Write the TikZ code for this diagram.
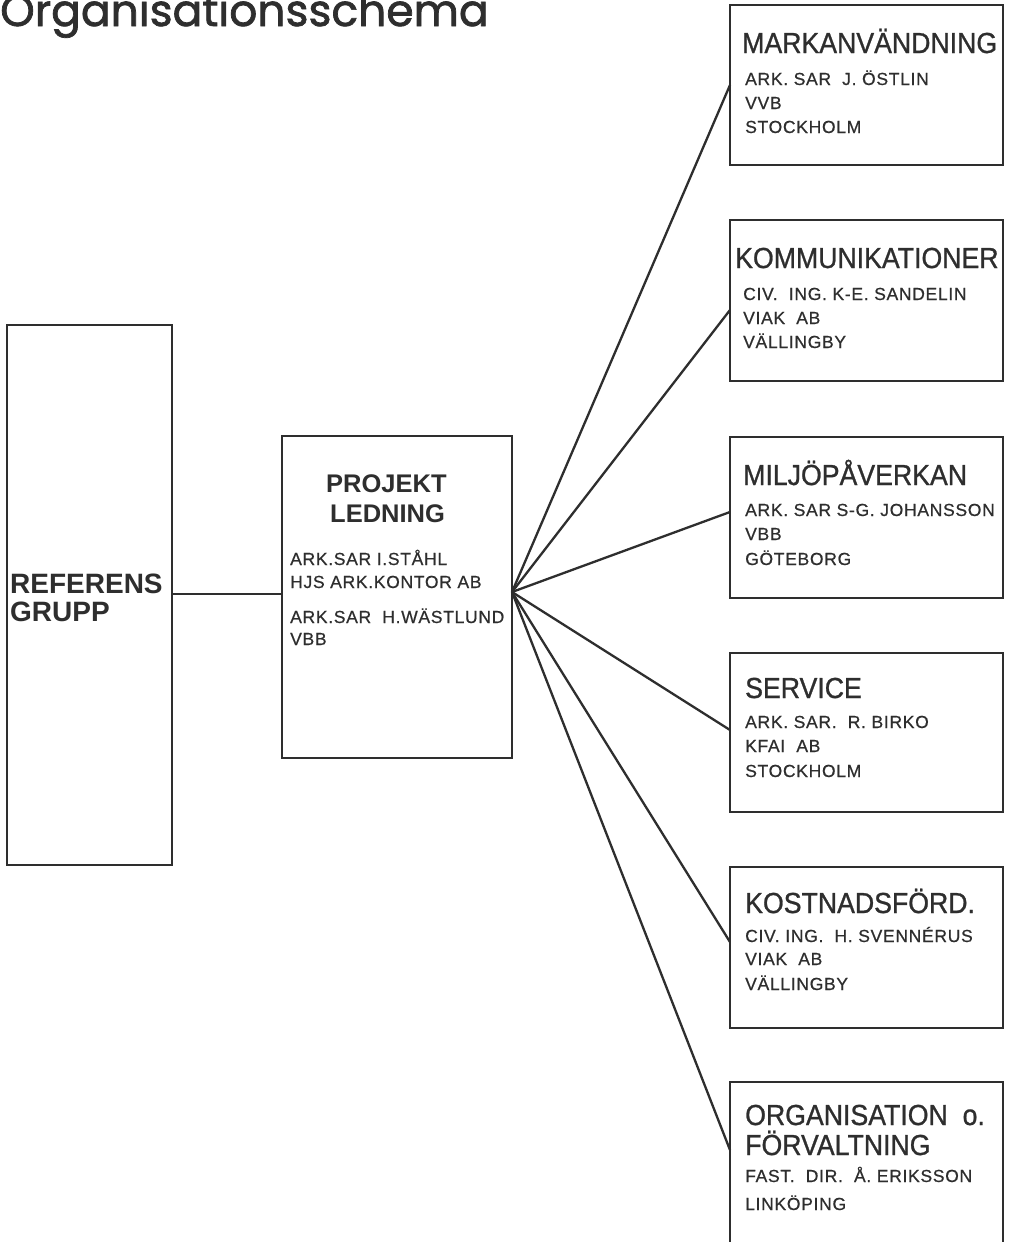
\documentclass[tikz,border=0pt]{standalone}
\usepackage{fontspec}
\setmainfont{Liberation Sans}
\newfontfamily\titlefont[FakeBold=1.6]{Poppins}
\newfontfamily\headfam[FakeStretch=0.92,FakeBold=0.9]{Liberation Sans}
\newfontfamily\subfam[LetterSpace=4,FakeBold=0.6]{Liberation Sans}
\definecolor{ink}{HTML}{2E2E2E}
\begin{document}
\begin{tikzpicture}[x=1pt,y=-1pt,
  box/.style={draw=ink, line width=2.8pt, rectangle, inner sep=0pt, outer sep=0pt, anchor=north west},
  link/.style={draw=ink, line width=2.3pt},
  head/.style={anchor=base west, inner sep=0pt, text=ink, font=\headfam\fontsize{29}{29}\selectfont},
  sub/.style={anchor=base west, inner sep=0pt, text=ink, font=\subfam\fontsize{17.5}{17.5}\selectfont},
  bighead/.style={anchor=base west, inner sep=0pt, text=ink, font=\bfseries\fontsize{28}{28}\selectfont},
  plhead/.style={anchor=base west, inner sep=0pt, text=ink, font=\bfseries\fontsize{25.5}{25.5}\selectfont},
  title/.style={anchor=base west, inner sep=0pt, text=ink, font=\titlefont\fontsize{44}{44}\selectfont}]
\clip (0,0) rectangle (1011,1242);
\fill[white] (0,0) rectangle (1011,1242);

% title
\node[title] (title) at (0,26) {Organisationsschema};

% referens grupp
\node[box, minimum width=165, minimum height=540] (rg) at (7,325) {};
\node[bighead] (rgA) at (10,593) {REFERENS};
\node[bighead] (rgB) at (10,621) {GRUPP};

% projekt ledning
\node[box, minimum width=230, minimum height=322] (pl) at (282,436) {};
\node[plhead] (plA) at (326,492) {PROJEKT};
\node[plhead] (plB) at (330,522) {LEDNING};
\node[sub] (pl1) at (290,565) {ARK.SAR I.STÅHL};
\node[sub] (pl2) at (290,588) {HJS ARK.KONTOR AB};
\node[sub] (pl3) at (290,623) {ARK.SAR \ H.WÄSTLUND};
\node[sub] (pl4) at (290,645) {VBB};

% right boxes
\node[box, minimum width=273, minimum height=160] (b1) at (730,5) {};
\node[head] (b1t) at (742,53) {MARKANVÄNDNING};
\node[sub] (b1a) at (745,85) {ARK. SAR \ J. ÖSTLIN};
\node[sub] (b1b) at (745,109) {VVB};
\node[sub] (b1c) at (745,133) {STOCKHOLM};

\node[box, minimum width=273, minimum height=161] (b2) at (730,220) {};
\node[head] (b2t) at (735,268) {KOMMUNIKATIONER};
\node[sub] (b2a) at (743,300) {CIV. \ ING. K-E. SANDELIN};
\node[sub] (b2b) at (743,324) {VIAK \ AB};
\node[sub] (b2c) at (743,348) {VÄLLINGBY};

\node[box, minimum width=273, minimum height=161] (b3) at (730,437) {};
\node[head] (b3t) at (743,485) {MILJÖPÅVERKAN};
\node[sub] (b3a) at (745,516) {ARK. SAR S-G. JOHANSSON};
\node[sub] (b3b) at (745,540) {VBB};
\node[sub] (b3c) at (745,565) {GÖTEBORG};

\node[box, minimum width=273, minimum height=159] (b4) at (730,653) {};
\node[head] (b4t) at (745,698) {SERVICE};
\node[sub] (b4a) at (745,728) {ARK. SAR. \ R. BIRKO};
\node[sub] (b4b) at (745,752) {KFAI \ AB};
\node[sub] (b4c) at (745,777) {STOCKHOLM};

\node[box, minimum width=273, minimum height=161] (b5) at (730,867) {};
\node[head] (b5t) at (745,913) {KOSTNADSFÖRD.};
\node[sub] (b5a) at (745,942) {CIV. ING. \ H. SVENNÉRUS};
\node[sub] (b5b) at (745,965) {VIAK \ AB};
\node[sub] (b5c) at (745,990) {VÄLLINGBY};

\node[box, minimum width=273, minimum height=200] (b6) at (730,1082) {};
\node[head] (b6t) at (745,1125) {ORGANISATION \ o.};
\node[head] (b6u) at (745,1155) {FÖRVALTNING};
\node[sub] (b6a) at (745,1182) {FAST. \ DIR. \ Å. ERIKSSON};
\node[sub] (b6b) at (745,1210) {LINKÖPING};

% connectors
\coordinate (fan) at (pl.east |- 0,592);
\draw[link] (rg.east |- 0,594) -- (pl.west |- 0,594);
\draw[link] (fan) -- (b1.west |- 0,85);
\draw[link] (fan) -- (b2.west |- 0,310);
\draw[link] (fan) -- (b3.west |- 0,512);
\draw[link] (fan) -- (b4.west |- 0,730);
\draw[link] (fan) -- (b5.west |- 0,942);
\draw[link] (fan) -- (b6.west |- 0,1150);
\end{tikzpicture}
\end{document}
